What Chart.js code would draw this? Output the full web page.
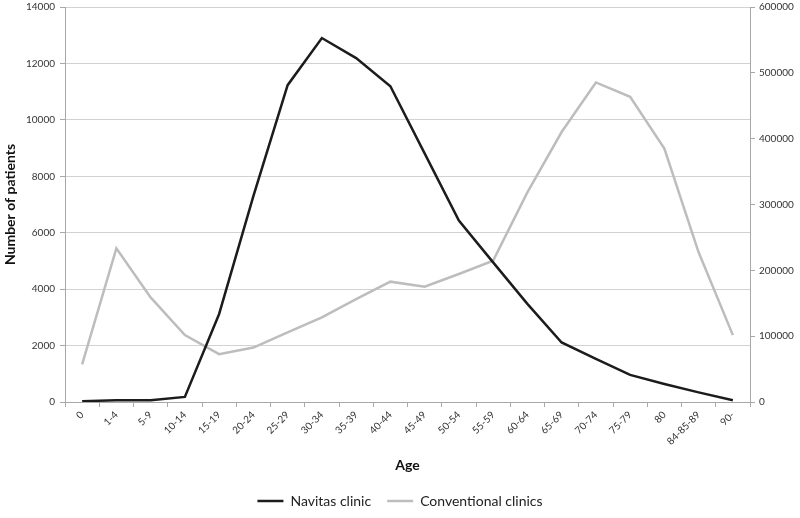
<!DOCTYPE html>
<html>
<head>
<meta charset="utf-8">
<script src="https://cdn.jsdelivr.net/npm/chart.js@4/dist/chart.umd.min.js"></script>
<style>
  html, body { margin: 0; padding: 0; background: #fff; }
  #wrap { width: 800px; height: 518px; }
</style>
</head>
<body>
<div id="wrap"><canvas id="chart" width="800" height="518"></canvas></div>
<script>
// grupos de edad
const ageGroups = ['0', '1-4', '5-9', '10-14', '15-19', '20-24', '25-29', '30-34', '35-39', '40-44',
  '45-49', '50-54', '55-59', '60-64', '65-69', '70-74', '75-79', '80', '84-85-89', '90-'];

// eje izquierdo: pacientes Navitas
const navitas = [30, 60, 60, 180, 3120, 7300, 11230, 12900, 12190, 11190,
  8810, 6430, 4950, 3480, 2110, 1530, 960, 640, 340, 60];

// eje derecho: clinicas convencionales
const conventional = [57000, 233500, 158900, 101600, 72600, 82700, 105600, 128400, 156400, 182800,
  175100, 194500, 214700, 318300, 410100, 485400, 463500, 384900, 227400, 101600];

const leftTicks = { min: 0, max: 14000, step: 2000 };
const rightTicks = { min: 0, max: 600000, step: 100000 };

const fuente = 'Lato, "Open Sans", sans-serif';
const ctx = document.getElementById('chart');

// sin separador de miles, como en el original
const sinComas = v => String(v);

new Chart(ctx, {
  type: 'line',
  data: {
    labels: ageGroups,
    datasets: [{
      label: 'Navitas clinic',
      data: navitas,
      yAxisID: 'y',
      borderColor: '#1c1c1c',
      backgroundColor: '#1c1c1c',
      borderWidth: 2.5,
      pointRadius: 0,
      tension: 0
    }, {
      label: 'Conventional clinics',
      data: conventional,
      yAxisID: 'y1',
      borderColor: '#bdbdbd',
      backgroundColor: '#bdbdbd',
      borderWidth: 2.5,
      pointRadius: 0,
      tension: 0
    }]
  },
  options: {
    responsive: false,
    animation: false,
    layout: { padding: { top: 7, left: 0, right: 0, bottom: 0 } },
    plugins: {
      tooltip: { enabled: false },
      legend: {
        position: 'bottom',
        labels: {
          usePointStyle: true,
          pointStyle: 'line',
          pointStyleWidth: 26,
          color: '#222',
          padding: 16,
          font: { family: fuente, size: 14 }
        }
      }
    },
    scales: {
      x: {
        offset: true,
        grid: { display: true, drawOnChartArea: false, tickLength: 5, color: '#a8a8a8', offset: true },
        border: { color: '#a8a8a8' },
        ticks: {
          autoSkip: false, maxRotation: 45, minRotation: 45, padding: 2,
          color: '#333', font: { family: fuente, size: 10 }
        },
        title: {
          display: true, text: 'Age', color: '#111',
          font: { family: fuente, size: 14, weight: 'bold' },
          padding: { top: 4, bottom: 4 }
        },
        afterFit: s => { s.height = 76; }
      },
      y: {
        position: 'left',
        min: leftTicks.min, max: leftTicks.max,
        grid: { color: '#d2d2d2', tickLength: 5, tickColor: '#a8a8a8' },
        border: { color: '#a8a8a8' },
        ticks: {
          stepSize: leftTicks.step, padding: 5, callback: sinComas,
          color: '#333', font: { family: fuente, size: 10 }
        },
        title: {
          display: true, text: 'Number of patients', color: '#111',
          font: { family: fuente, size: 14, weight: 'bold' },
          padding: { top: 2, bottom: 2 }
        },
        afterFit: s => { s.width = 65; s.paddingTop = 0; s.paddingBottom = 0; }
      },
      y1: {
        position: 'right',
        min: rightTicks.min, max: rightTicks.max,
        grid: { drawOnChartArea: false, tickLength: 5, color: '#a8a8a8' },
        border: { color: '#a8a8a8' },
        ticks: {
          stepSize: rightTicks.step, padding: 4, callback: sinComas,
          color: '#333', font: { family: fuente, size: 10 }
        },
        afterFit: s => { s.width = 50; s.paddingTop = 0; s.paddingBottom = 0; }
      }
    }
  }
});
</script>
</body>
</html>
